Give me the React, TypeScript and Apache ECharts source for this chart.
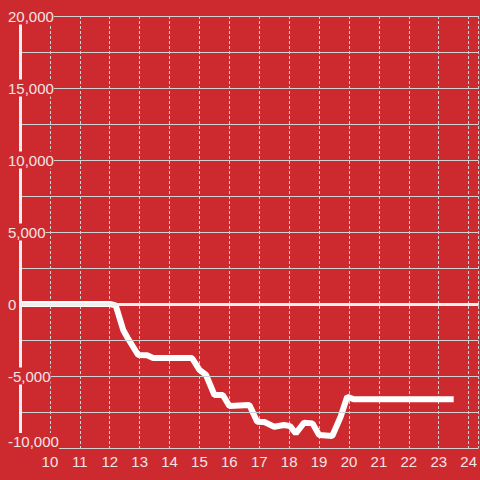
import React, { useEffect, useRef } from "react";
import * as echarts from "echarts";

const hours = [9, 12, 12.2, 12.45, 12.6, 12.95, 13.25, 13.45, 14.75, 15.0, 15.22, 15.5, 15.78, 16.0, 16.67, 16.93, 17.17, 17.5, 17.83, 18.03, 18.22, 18.5, 18.78, 19.0, 19.44, 19.72, 19.94, 20.17, 23.5];
const values = [0, 0, -100, -1800, -2360, -3540, -3560, -3750, -3750, -4580, -4930, -6320, -6320, -7080, -7010, -8170, -8200, -8520, -8400, -8480, -8980, -8240, -8290, -9100, -9170, -7830, -6440, -6620, -6620];
const xTicks = [10, 11, 12, 13, 14, 15, 16, 17, 18, 19, 20, 21, 22, 23, 24];
const yMin = -10000;
const yMax = 20000;

const BG = "#cc2a2f";
const TEXT = "#f3e4e4";
const GRID = "#d2d2d2";

export default function App() {
  const ref = useRef<HTMLDivElement>(null);
  useEffect(() => {
    if (!ref.current) return;
    const chart = echarts.init(ref.current, undefined, { renderer: "svg" });
    const labStyle = {
      color: TEXT,
      fontSize: 15,
      fontFamily: "Liberation Sans",
      backgroundColor: BG,
      padding: [1, 0, 1, 0],
    };
    chart.setOption({
      animation: false,
      backgroundColor: BG,
      grid: { left: 20, right: 0, top: 16, bottom: 32, containLabel: false },
      xAxis: {
        type: "value",
        min: 9,
        max: 24.333,
        interval: 1,
        axisLine: { show: true, lineStyle: { color: GRID, width: 1 } },
        axisTick: { show: false },
        axisLabel: {
          color: TEXT,
          fontSize: 15,
          fontFamily: "Liberation Sans",
          margin: 6,
          showMinLabel: false,
          showMaxLabel: false,
          formatter: (v: number) => (xTicks.includes(Math.round(v)) ? String(Math.round(v)) : ""),
        },
        splitLine: { show: true, lineStyle: { color: GRID, width: 1, type: [3, 2] } },
      },
      yAxis: {
        type: "value",
        min: yMin,
        max: yMax,
        interval: 2500,
        axisLine: { show: true, lineStyle: { color: "#f4eeee", width: 3 } },
        axisTick: { show: false },
        axisLabel: {
          color: TEXT,
          fontSize: 15,
          fontFamily: "Liberation Sans",
          align: "left",
          margin: 12,
          formatter: (v: number) => {
            if (v % 5000 !== 0) return "";
            const s = v.toLocaleString("en-US");
            return v === yMin ? `{a|${s}}\n{s|}` : `{a|${s}}`;
          },
          rich: {
            a: labStyle,
            s: { height: 13, fontSize: 1, lineHeight: 13 },
          },
        },
        splitLine: { show: true, lineStyle: { color: GRID, width: 1 } },
        z: 3,
      },
      series: [
        {
          type: "line",
          data: hours.map((h, i) => [h, values[i]]),
          showSymbol: false,
          symbol: "none",
          lineStyle: { color: "#ffffff", width: 6 },
          itemStyle: { color: "#ffffff" },
          markLine: {
            silent: true,
            symbol: "none",
            label: { show: false },
            lineStyle: { color: "#f4eeee", width: 3, type: "solid" },
            data: [{ yAxis: 0 }],
          },
          z: 2,
        },
      ],
    });
    return () => chart.dispose();
  }, []);
  return (
    <div
      ref={ref}
      style={{ position: "fixed", left: 0, top: 0, width: 480, height: 480 }}
    />
  );
}
